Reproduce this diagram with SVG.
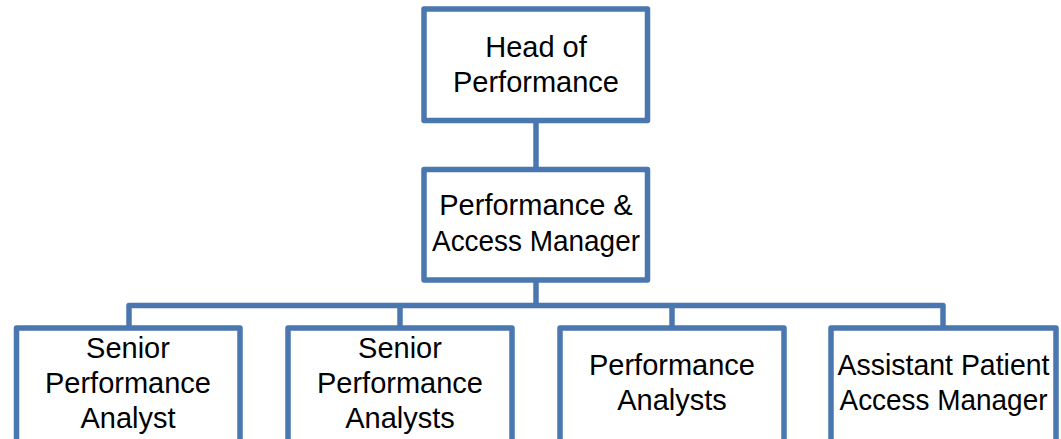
<svg xmlns="http://www.w3.org/2000/svg" width="1061" height="439" viewBox="0 0 1061 439">
<style>
.box{fill:#ffffff;stroke:#4A77B0;stroke-width:5.5;stroke-linejoin:round}
.con{fill:none;stroke:#4A77B0;stroke-width:5.5;stroke-linejoin:round}
text{font-family:"Liberation Sans",Arial,sans-serif;font-size:29px;fill:#000000;text-anchor:middle}
</style>
<rect width="1061" height="439" fill="#ffffff"/>
<g id="connectors">
<path class="con" d="M536 120 V170"/>
<path class="con" d="M536 280 V305.5"/>
<path class="con" d="M129 328 V305.5 H943 V328"/>
<path class="con" d="M400 305.5 V328"/>
<path class="con" d="M672 305.5 V328"/>
</g>
<g id="head">
<rect class="box" x="424" y="9" width="223.5" height="111.5"/>
<text x="536" y="56.5">Head of</text>
<text x="536" y="91.5">Performance</text>
</g>
<g id="manager">
<rect class="box" x="424" y="169.5" width="223.5" height="110.5"/>
<text x="536" y="215">Performance &amp;</text>
<text x="536" y="251" textLength="208" lengthAdjust="spacingAndGlyphs">Access Manager</text>
</g>
<g id="senior1">
<rect class="box" x="16.5" y="328" width="223.5" height="130"/>
<text x="128" y="358">Senior</text>
<text x="128" y="392.5">Performance</text>
<text x="128" y="427.5">Analyst</text>
</g>
<g id="senior2">
<rect class="box" x="288" y="328" width="224" height="130"/>
<text x="400" y="358">Senior</text>
<text x="400" y="392.5">Performance</text>
<text x="400" y="427.5">Analysts</text>
</g>
<g id="analysts">
<rect class="box" x="560" y="328" width="224" height="130"/>
<text x="672" y="375">Performance</text>
<text x="672" y="409.5">Analysts</text>
</g>
<g id="assistant">
<rect class="box" x="831" y="328" width="225" height="130"/>
<text x="943.5" y="375" textLength="212" lengthAdjust="spacingAndGlyphs">Assistant Patient</text>
<text x="943.5" y="409.5" textLength="208" lengthAdjust="spacingAndGlyphs">Access Manager</text>
</g>
</svg>
